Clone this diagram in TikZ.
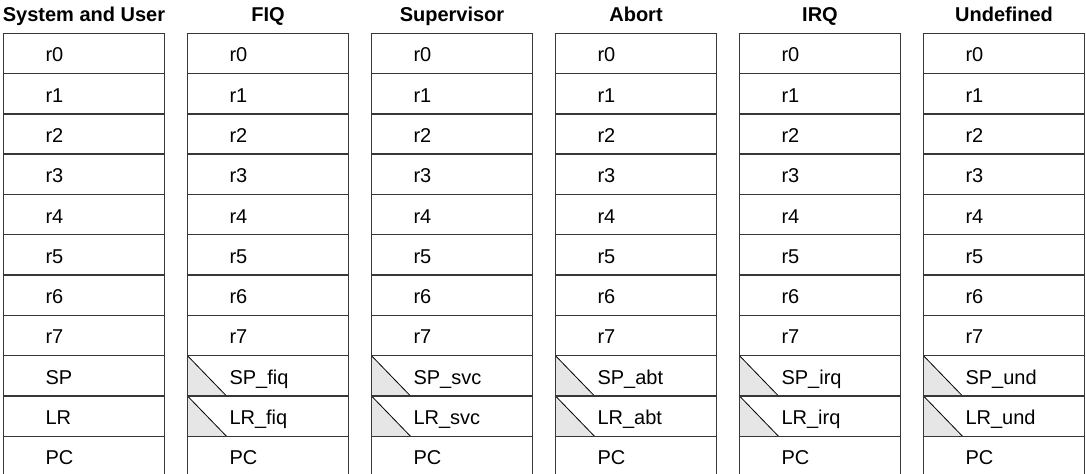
\documentclass[tikz,border=0pt]{standalone}
\usepackage{fontspec}
\setmainfont{Liberation Sans}
\definecolor{myline}{RGB}{55,55,55}
\definecolor{mygray}{RGB}{230,230,230}
\tikzset{
  reg/.style={draw=myline, line width=0.7pt,
    minimum width=80.5pt, minimum height=20.15pt,
    inner xsep=21pt, inner ysep=0pt, text width=38.5pt, align=left,
    text height=8.8pt, text depth=0.4pt,
    font=\fontsize{10}{12}\selectfont},
  banked/.style={reg, path picture={
      \fill[mygray] (path picture bounding box.north west)
        -- (path picture bounding box.south west) -- ++(19.5pt,0) -- cycle;
      \draw[black, line width=0.4pt] (path picture bounding box.north west)
        -- ++(19.5pt,-20.15pt);}},
  mode/.style={anchor=base, font=\bfseries\fontsize{10}{12}\selectfont}
}

\begin{document}
\begin{tikzpicture}[x=0.5pt,y=0.5pt]
    \useasboundingbox (0,0) rectangle (1086,474);

    % Kopfzeile
    \foreach \m [count=\i from 0] in {System and User,FIQ,Supervisor,Abort,IRQ,Undefined}
    {
      \node[mode] (m\i) at (84+184*\i,452.3) {\m};
    }

    % r0 bis r7
    \foreach \i in {0,...,5}
    {
      \foreach \r in {0,...,7}
        \node[reg] (c\i-\r) at (84+184*\i,420.55-40.3*\r) {r\r};
    }

    % SP, LR und PC
    \foreach \i/\s/\st in {0//reg,1/\_fiq/banked,2/\_svc/banked,
                           3/\_abt/banked,4/\_irq/banked,5/\_und/banked}
    {
      \node[\st] (sp\i) at (84+184*\i,420.55-40.3*8) {SP\s};
      \node[\st] (lr\i) at (84+184*\i,420.55-40.3*9) {LR\s};
      \node[reg] (pc\i) at (84+184*\i,420.55-40.3*10) {PC};
    }
\end{tikzpicture}
\end{document}
